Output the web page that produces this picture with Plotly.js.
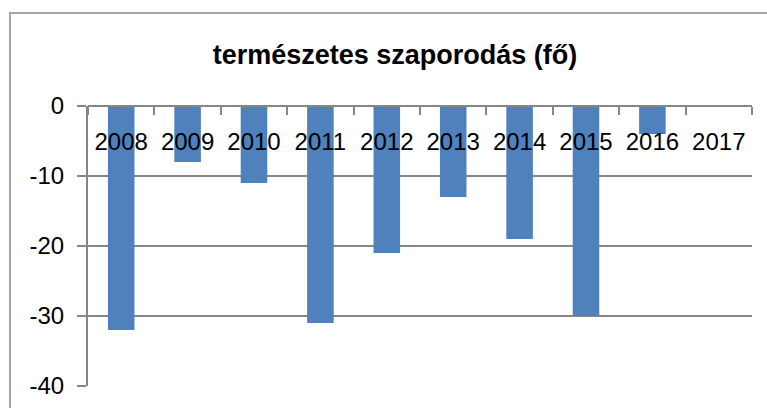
<!DOCTYPE html>
<html>
<head>
<meta charset="utf-8">
<script src="https://cdn.plot.ly/plotly-3.0.1.min.js"></script>
<style>
  html, body { margin: 0; padding: 0; background: #fff; }
  #chart { width: 767px; height: 408px; }
</style>
</head>
<body>
<div id="chart"></div>
<script>
const years = ["2008", "2009", "2010", "2011", "2012", "2013", "2014", "2015", "2016", "2017"];
const natural_increase = [-32, -8, -11, -31, -21, -13, -19, -30, -4, 0];
const yTicks = [0, -10, -20, -30, -40];
const chartTitle = "természetes szaporodás (fő)";

const W = 767, H = 408;
const L = 88, R = 752, T = 106, B = 386;
const pw = R - L, ph = B - T;

const trace = {
  type: "bar",
  x: years,
  y: natural_increase,
  marker: { color: "#4F81BD", line: { width: 0 } },
  hoverinfo: "x+y"
};

const layout = {
  width: W, height: H,
  margin: { l: L, r: W - R, t: T, b: H - B, pad: 0 },
  paper_bgcolor: "#ffffff",
  plot_bgcolor: "#ffffff",
  showlegend: false,
  bargap: 0.6,
  font: { family: "Liberation Sans, Arial, sans-serif", color: "#000" },
  title: {
    text: "<b>" + chartTitle + "</b>",
    font: { size: 27, family: "Liberation Sans, Arial, sans-serif", color: "#000" },
    xref: "container", x: 395 / W, xanchor: "center",
    yref: "container", y: 1 - 55 / H, yanchor: "middle"
  },
  xaxis: {
    type: "category",
    side: "bottom",
    anchor: "free",
    position: 1,
    tickson: "boundaries",
    ticks: "outside",
    ticklen: 8,
    tickwidth: 2,
    tickcolor: "#868686",
    ticklabelstandoff: 14,
    tickfont: { size: 24, family: "Liberation Sans, Arial, sans-serif", color: "#000" },
    showline: true,
    linecolor: "#868686",
    linewidth: 2,
    showgrid: false,
    zeroline: false,
    fixedrange: true
  },
  yaxis: {
    range: [-40, 0],
    tickvals: yTicks,
    ticktext: yTicks.map(String),
    ticks: "outside",
    ticklen: 9,
    tickwidth: 2,
    tickcolor: "#868686",
    ticklabelstandoff: 8,
    tickfont: { size: 24, family: "Liberation Sans, Arial, sans-serif", color: "#000" },
    showline: true,
    linecolor: "#868686",
    linewidth: 2,
    showgrid: true,
    gridcolor: "#868686",
    gridwidth: 2,
    zeroline: false,
    fixedrange: true
  },
  shapes: [{
    type: "rect",
    xref: "paper", yref: "paper",
    x0: (10 - L) / pw, x1: (775 - L) / pw,
    y0: (B - 420) / ph, y1: (B - 13) / ph,
    line: { color: "#a6a6a6", width: 2 },
    fillcolor: "rgba(0,0,0,0)",
    layer: "below"
  }]
};

Plotly.newPlot("chart", [trace], layout, { displayModeBar: false, staticPlot: true });
</script>
</body>
</html>
